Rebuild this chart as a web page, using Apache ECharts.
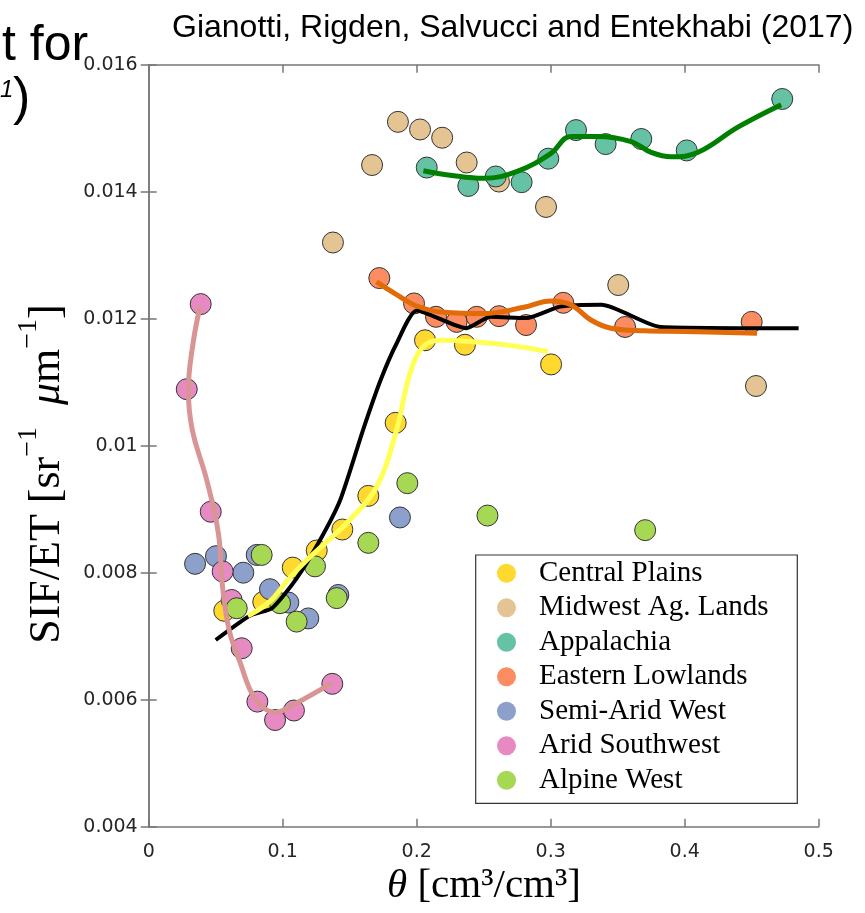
<!DOCTYPE html>
<html>
<head>
<meta charset="utf-8">
<script src="https://cdn.jsdelivr.net/npm/echarts@6/dist/echarts.min.js"></script>
<style>
  html, body { margin: 0; padding: 0; background: #fff; }
  #main { width: 865px; height: 913px; }
</style>
</head>
<body>
<div id="main"></div>
<script>
// scatter points per region: [theta, SIF/ET]
var centralPlains = [[0.0564,0.0074],[0.0855,0.00754],[0.1075,0.00808],[0.1254,0.00835],[0.1445,0.00868],
  [0.1639,0.00921],[0.1843,0.01036],[0.2062,0.01166],[0.236,0.01159],[0.3003,0.01128]];
var midwestAg = [[0.186,0.0151],[0.2025,0.01498],[0.219,0.01485],[0.1667,0.01442],[0.2373,0.01446],
  [0.1375,0.0132],[0.2614,0.01416],[0.2965,0.01376],[0.3504,0.01253],[0.4532,0.01094]];
var appalachia = [[0.2075,0.01438],[0.2385,0.01409],[0.259,0.01424],[0.2783,0.01415],[0.2982,0.01452],
  [0.3189,0.01497],[0.341,0.01475],[0.3676,0.01483],[0.4015,0.01465],[0.4728,0.01546]];
var easternLowlands = [[0.1721,0.01264],[0.198,0.01224],[0.2144,0.01203],[0.2298,0.01195],[0.2448,0.01203],
  [0.2614,0.01204],[0.2816,0.0119],[0.3094,0.01225],[0.3555,0.01187],[0.45,0.01195]];
var semiAridWest = [[0.0346,0.00814],[0.0502,0.00826],[0.0706,0.008],[0.0806,0.00828],[0.0905,0.00774],
  [0.1042,0.00753],[0.1191,0.00728],[0.1415,0.00765],[0.1875,0.00887]];
var aridSouthwest = [[0.0388,0.01223],[0.0284,0.01089],[0.0463,0.00896],[0.0552,0.00802],[0.0619,0.00757],
  [0.0694,0.00681],[0.0811,0.00597],[0.0943,0.00568],[0.1084,0.00583],[0.137,0.00625]];
var alpineWest = [[0.0657,0.00744],[0.0843,0.00828],[0.098,0.00752],[0.1104,0.00723],[0.1241,0.0081],
  [0.1403,0.0076],[0.1639,0.00847],[0.193,0.00941],[0.2528,0.0089],[0.3705,0.00867]];

// fitted curves
var allFit = [[0.050,0.00694],[0.076,0.00733],[0.092,0.00744],[0.110,0.0079],[0.128,0.00852],[0.143,0.00915],
  [0.160,0.01025],[0.173,0.01103],[0.185,0.01161],[0.200,0.01213],[0.237,0.01185],[0.255,0.01203],
  [0.282,0.01201],[0.307,0.01219],[0.338,0.01222],[0.382,0.01187],[0.485,0.01185]];
var plainsFit = [[0.074,0.00732],[0.090,0.00754],[0.104,0.00789],[0.118,0.0082],[0.133,0.00849],[0.150,0.00883],
  [0.170,0.00935],[0.185,0.01025],[0.195,0.01114],[0.205,0.01156],[0.218,0.01166],[0.240,0.01164],
  [0.270,0.01158],[0.298,0.01148]];
var lowlandsFit = [[0.170,0.01258],[0.185,0.01238],[0.200,0.0122],[0.220,0.0121],[0.250,0.01208],[0.280,0.01218],
  [0.300,0.01228],[0.315,0.01222],[0.330,0.01198],[0.345,0.01185],[0.370,0.01181],[0.400,0.0118],[0.454,0.01177]];
var appalachiaFit = [[0.205,0.01433],[0.225,0.01426],[0.250,0.01421],[0.275,0.01432],[0.300,0.0146],[0.315,0.01487],
  [0.335,0.01487],[0.360,0.01479],[0.375,0.01462],[0.390,0.01455],[0.410,0.01462],[0.440,0.01502],[0.472,0.01537]];
var southwestFit = [[0.0383,0.01219],[0.033,0.0116],[0.0296,0.01088],[0.0325,0.01025],[0.0433,0.00946],[0.052,0.00862],
  [0.055,0.0078],[0.060,0.0071],[0.068,0.0066],[0.0793,0.00602],[0.0943,0.0058],[0.1079,0.00592],[0.1366,0.00626]];

var regionNames = ['Central Plains','Midwest Ag. Lands','Appalachia','Eastern Lowlands','Semi-Arid West','Arid Southwest','Alpine West'];
var regionColors = ['#FFD92F','#E5C494','#66C2A5','#FC8D62','#8DA0CB','#E78AC3','#A6D854'];
var regionData = [centralPlains, midwestAg, appalachia, easternLowlands, semiAridWest, aridSouthwest, alpineWest];

var xTicks = [0, 0.5, 0.1];
var yTicks = [0.004, 0.016, 0.002];

var chart = echarts.init(document.getElementById('main'));

var series = [];
for (var i = 0; i < regionNames.length; i++) {
  series.push({
    name: regionNames[i],
    type: 'scatter',
    data: regionData[i],
    symbolSize: 21,
    itemStyle: { color: regionColors[i], borderColor: '#333', borderWidth: 1, opacity: 1 },
    z: 2
  });
}
function fitLine(name, data, color, width, smooth) {
  return {
    name: name, type: 'line', data: data, smooth: smooth, showSymbol: false, symbol: 'none',
    lineStyle: { color: color, width: width }, z: 3, silent: true
  };
}
series.push(fitLine('all', allFit, '#000000', 4, 0.2));
series.push(fitLine('plainsFit', plainsFit, '#FFFF55', 5, 0.4));
series.push(fitLine('lowlandsFit', lowlandsFit, '#E26A07', 5, 0.4));
series.push(fitLine('appalachiaFit', appalachiaFit, '#008000', 5, 0.4));
series.push(fitLine('southwestFit', southwestFit, '#D99595', 5, 0.4));

var axisLine = { show: true, lineStyle: { color: '#777', width: 1.5 } };
var tick = { show: true, inside: true, length: 8, lineStyle: { color: '#777', width: 1.5 } };
var tickFont = { fontFamily: 'DejaVu Sans', fontSize: 19, color: '#262626' };

var option = {
  backgroundColor: '#fff',
  animation: false,
  grid: { left: 148.7, right: 46.3, top: 64.7, bottom: 86.3, containLabel: false },
  legend: {
    data: regionNames,
    orient: 'vertical',
    left: 497, top: 556,
    padding: 0,
    itemGap: 0,
    itemWidth: 19, itemHeight: 19,
    icon: 'circle',
    itemStyle: { borderWidth: 0 },
    textStyle: { fontFamily: 'Liberation Serif', fontSize: 29, color: '#000', lineHeight: 34.5, padding: [0, 0, 0, 18] }
  },
  xAxis: [
    { type: 'value', min: xTicks[0], max: xTicks[1], interval: xTicks[2], position: 'bottom',
      axisLine: axisLine, axisTick: tick, splitLine: { show: false },
      axisLabel: Object.assign({ margin: 16 }, tickFont) },
    { type: 'value', min: xTicks[0], max: xTicks[1], interval: xTicks[2], position: 'top',
      axisLine: axisLine, axisTick: tick, splitLine: { show: false }, axisLabel: { show: false } }
  ],
  yAxis: [
    { type: 'value', min: yTicks[0], max: yTicks[1], interval: yTicks[2], position: 'left',
      axisLine: axisLine, axisTick: tick, splitLine: { show: false },
      axisLabel: Object.assign({ margin: 11 }, tickFont) },
    { type: 'value', min: yTicks[0], max: yTicks[1], interval: yTicks[2], position: 'right',
      axisLine: axisLine, axisTick: tick, splitLine: { show: false }, axisLabel: { show: false } }
  ],
  graphic: [
    // legend frame
    { type: 'rect', shape: { x: 475.7, y: 555, width: 321.6, height: 248.3 },
      style: { fill: '#fff', stroke: '#333', lineWidth: 1.2 }, z: 4 },
    { type: 'text', x: 172, y: 28, z: 10,
      style: { text: 'Gianotti, Rigden, Salvucci and Entekhabi (2017)', fontFamily: 'Liberation Sans',
        fontSize: 32, fill: '#000', textVerticalAlign: 'middle' } },
    { type: 'text', x: 2, y: 46, z: 10,
      style: { text: 't for', fontFamily: 'Liberation Sans', fontSize: 50, fill: '#000', textVerticalAlign: 'middle' } },
    { type: 'text', x: 0, y: 90, z: 10,
      style: { text: '1', fontFamily: 'Liberation Sans', fontStyle: 'italic', fontSize: 24, fill: '#000', textVerticalAlign: 'middle' } },
    { type: 'text', x: 13, y: 100, z: 10,
      style: { text: ')', fontFamily: 'Liberation Sans', fontSize: 52, fill: '#000', textVerticalAlign: 'middle' } },
    { type: 'text', x: 484, y: 886, z: 10,
      style: { text: '{it|θ} [cm³/cm³]', fontFamily: 'Liberation Serif', fontSize: 41, fill: '#000',
        textAlign: 'center', textVerticalAlign: 'middle',
        rich: { it: { fontFamily: 'Liberation Serif', fontStyle: 'italic', fontSize: 41 } } } },
    { type: 'text', x: 42, y: 474, rotation: Math.PI / 2, z: 10,
      style: { text: '{n|SIF/ET [sr}{s|−1}{n|  }{it|μ}{n|m}{s|−1}{n|]}', fill: '#000',
        textAlign: 'center', textVerticalAlign: 'middle',
        rich: {
          n: { fontFamily: 'Liberation Serif', fontSize: 44, verticalAlign: 'bottom', lineHeight: 54 },
          it: { fontFamily: 'Liberation Serif', fontStyle: 'italic', fontSize: 44, verticalAlign: 'bottom', lineHeight: 54 },
          s: { fontFamily: 'Liberation Serif', fontSize: 28, verticalAlign: 'top', lineHeight: 54 }
        } } }
  ],
  series: series
};
chart.setOption(option);
</script>
</body>
</html>
